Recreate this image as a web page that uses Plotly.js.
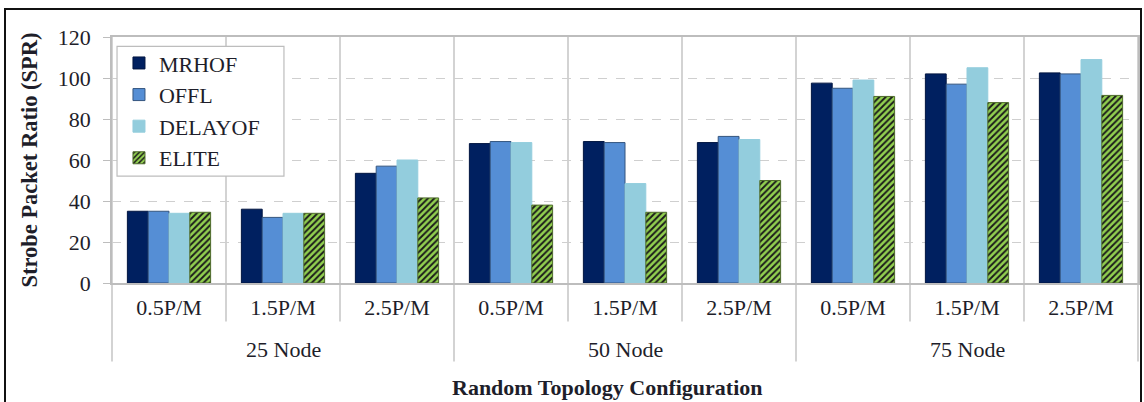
<!DOCTYPE html>
<html>
<head>
<meta charset="utf-8">
<script src="https://cdn.plot.ly/plotly-3.0.1.min.js"></script>
<style>
  html, body { margin: 0; padding: 0; background: #ffffff; }
  #chart { width: 1144px; height: 402px; }
  #frame { position: absolute; left: 4px; top: 8px; width: 1134px; height: 420px; border: 2px solid #111; pointer-events: none; }
</style>
</head>
<body>
<div id="chart"></div>
<div id="frame"></div>
<script>
// ---- data ----
const nodes = ['25 Node', '50 Node', '75 Node'];
const rates = ['0.5P/M', '1.5P/M', '2.5P/M'];
const mrhof   = [35, 36, 53.5, 68, 69, 68.5, 97.5, 102, 102.5];
const offl    = [35, 32, 57, 69, 68.5, 71.5, 95, 97, 102];
const delayof = [34, 34, 60, 68.5, 48.5, 70, 99, 105, 109];
const elite   = [34.5, 34, 41.5, 38, 34.5, 50, 91, 88, 91.5];
const yTicks  = [0, 20, 40, 60, 80, 100, 120];

// category keys (unique) with sub-labels as tick text
const xKeys = [], xSub = [];
nodes.forEach(n => rates.forEach(r => { xKeys.push(n + ' ' + r); xSub.push(r); }));

const font = 'Liberation Serif, Times New Roman, serif';
const txt = '#1e1e2a';
const FS = 22;

function bar(name, y, color, lineColor, idx, pattern) {
  const t = {
    type: 'bar', name: name, x: xKeys, y: y,
    legendgroup: 'g' + idx,
    marker: { color: color, line: { color: lineColor, width: 1 } },
    hoverinfo: 'y'
  };
  if (pattern) t.marker.pattern = pattern;
  return t;
}

const traces = [
  bar('MRHOF', mrhof, '#002060', '#001540', 0),
  bar('OFFL', offl, '#558ED5', '#34557f', 1),
  bar('DELAYOF', delayof, '#93CDDD', '#93CDDD', 2),
  bar('ELITE', elite, '#92D050', '#4f6b2c', 3,
      { shape: '/', fgcolor: '#1a1a1a', bgcolor: '#92D050', size: 4.5, solidity: 0.42, fillmode: 'replace' })
];

// separators between categories (sub) and groups, extending below the axis
const nCat = xKeys.length;
const shapes = [];
for (let k = 0; k <= nCat; k++) {
  const isGroup = (k % rates.length === 0);
  shapes.push({
    type: 'line', xref: 'paper', yref: 'paper',
    x0: k / nCat, x1: k / nCat, y0: 1, y1: isGroup ? -0.319 : -0.157,
    line: { color: '#c4c4c4', width: 1.5 }, layer: 'below'
  });
}
// legend frame
shapes.push({
  type: 'rect', xref: 'paper', yref: 'paper',
  x0: 0.0049, x1: 0.1676, y0: 0.4348, y1: 0.9615,
  fillcolor: '#ffffff', line: { color: '#bdbdbd', width: 1.2 }, layer: 'above'
});

// group labels under the middle category of each group
const annotations = nodes.map((n, gi) => ({
  xref: 'x', yref: 'paper',
  x: xKeys[gi * rates.length + Math.floor(rates.length / 2)],
  y: -0.27, yanchor: 'middle', xanchor: 'center',
  text: n, showarrow: false,
  font: { family: font, size: FS, color: txt }
}));
annotations.push({
  xref: 'paper', yref: 'paper', x: 0.4834, y: -0.425,
  xanchor: 'center', yanchor: 'middle', showarrow: false,
  text: 'Random Topology Configuration',
  font: { family: font, size: FS, color: txt, weight: 'bold' }
});

const layout = {
  width: 1144, height: 402,
  margin: { l: 112, r: 6, t: 36.5, b: 118.7 },
  paper_bgcolor: '#ffffff',
  plot_bgcolor: 'rgba(0,0,0,0)',
  barmode: 'group',
  bargap: 0.27,
  bargroupgap: 0,
  font: { family: font, size: FS, color: txt },
  showlegend: true,
  legend: {
    x: 0.0068, y: 0.979, xanchor: 'left', yanchor: 'top',
    bgcolor: 'rgba(0,0,0,0)', borderwidth: 0,
    font: { family: font, size: FS, color: txt },
    tracegroupgap: 3, traceorder: 'normal'
  },
  xaxis: {
    type: 'category',
    tickmode: 'array', tickvals: xKeys, ticktext: xSub,
    showgrid: false, zeroline: false,
    showline: true, linecolor: '#bdbdbd', linewidth: 1.5, mirror: true,
    ticks: '', ticklabelstandoff: 4,
    tickfont: { family: font, size: FS, color: txt },
    automargin: false
  },
  yaxis: {
    range: [0, 120], tickvals: yTicks,
    showgrid: true, gridcolor: '#cfcfcf', griddash: 'dash', gridwidth: 1,
    zeroline: false,
    showline: true, linecolor: '#bdbdbd', linewidth: 1.5, mirror: true,
    ticks: 'outside', ticklen: 7, tickcolor: '#bdbdbd', ticklabelstandoff: 8,
    tickfont: { family: font, size: FS, color: txt },
    title: { text: 'Strobe Packet Ratio (SPR)', font: { family: font, size: 22.5, color: txt, weight: 'bold' }, standoff: 14 },
    automargin: false
  },
  shapes: shapes,
  annotations: annotations
};

Plotly.newPlot('chart', traces, layout, { displayModeBar: false, responsive: false });
</script>
</body>
</html>
